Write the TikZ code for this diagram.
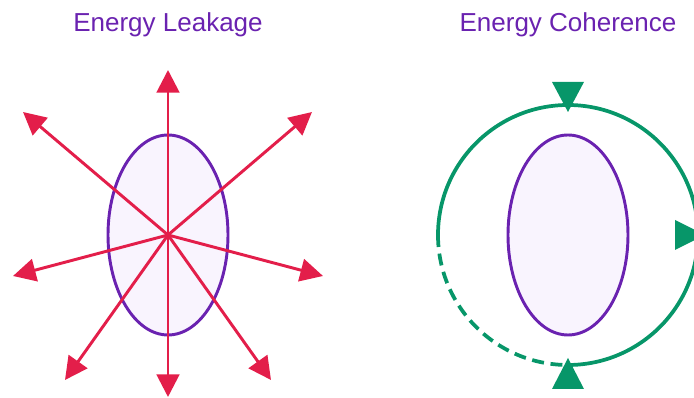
\documentclass[tikz,border=0pt]{standalone}
\usepackage{fontspec}
\setmainfont{Liberation Sans}
\usetikzlibrary{arrows.meta}
\usetikzlibrary{shapes.geometric}
\definecolor{leakred}{HTML}{E31E4A}
\definecolor{corepurple}{HTML}{6A22B0}
\definecolor{corefill}{HTML}{F9F4FE}
\definecolor{loopgreen}{HTML}{079669}
\tikzstyle{title} = [text=corepurple, 
font=\fontsize{19.5}{23}\selectfont]
\tikzstyle{core} = [ellipse, 
minimum width=90pt, 
minimum height=150pt, 
inner sep=0pt, 
draw=corepurple, 
line width=2.2pt, 
fill=corefill]
\tikzstyle{rayarrow} = [draw=leakred, line width=2.2pt, 
-{Triangle[length=17pt,width=17pt,fill=leakred]}]
\tikzstyle{loop} = [draw=loopgreen, line width=2.8pt]
\tikzstyle{marker} = [fill=loopgreen]

\begin{document}
\begin{tikzpicture}[x=0.75pt, y=-0.75pt]
            \useasboundingbox (0,0) rectangle (694,398);
            % left: leakage
            \node (leakTitle) [title] at (168,25) {Energy Leakage};
            \node (leakCore) [core] at (168,235) {};
            \coordinate (leakC) at (168,235);
            \foreach \name/\tx/\ty in {up/168/70, down/168/397, ul/23/112, ur/312/112,
                    lt/13/276, rt/323/276, dl/65/380, dr/271/380} {
                \coordinate (tip-\name) at (\tx,\ty);
                \draw [rayarrow] (leakC) -- (tip-\name);
            }

            % right: coherence
            \node (cohTitle) [title] at (568,25) {Energy Coherence};
            \coordinate (cohC) at (568,235);
            \coordinate (cohTop) at (568,105);
            \coordinate (cohRight) at (698,235);
            \coordinate (cohBottom) at (568,365);
            \coordinate (cohLeft) at (438,235);
            \draw [loop] (cohBottom) arc[start angle=90, end angle=-180, radius=130];
            \draw [loop, dash pattern=on 9pt off 5pt] (cohLeft) arc[start angle=180, end angle=90, radius=130];
            \node (cohCore) [core] at (cohC) {};

            \fill [marker] (cohTop) ++(-16,-23) -- ++(32,0) -- ++(-16,30) -- cycle;
            \fill [marker] (cohRight) ++(-23,-15) -- ++(0,30) -- ++(30,-15) -- cycle;
            \fill [marker] (cohBottom) ++(0,-7) -- ++(-16,31) -- ++(32,0) -- cycle;
        \end{tikzpicture}
\end{document}
